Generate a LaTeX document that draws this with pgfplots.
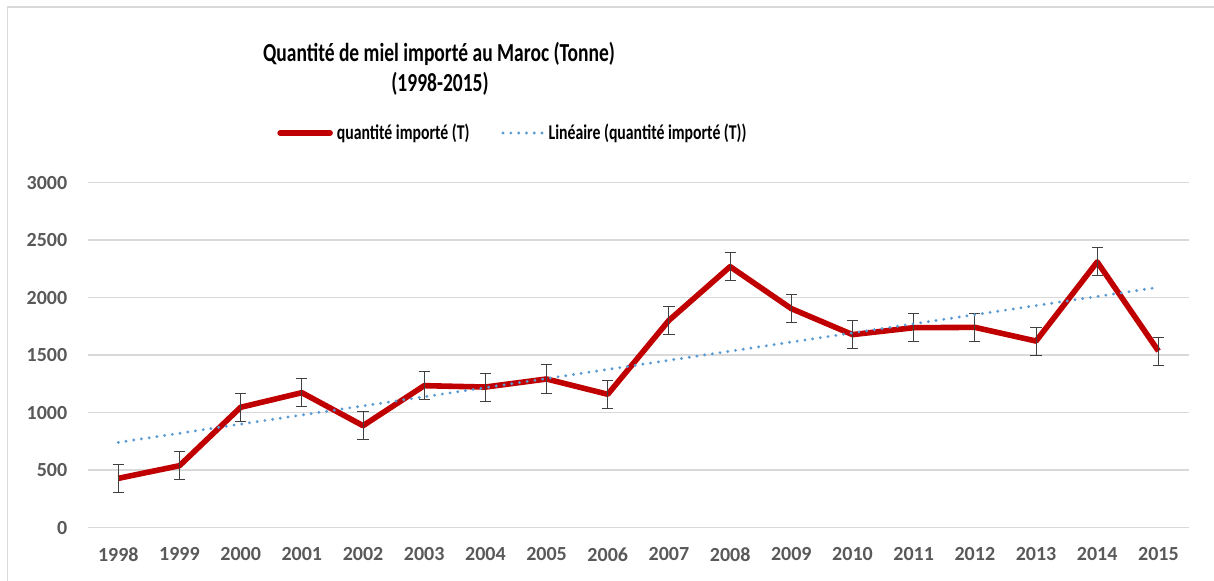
\documentclass[border=0pt]{standalone}
\usepackage{fontspec}
\setmainfont{Carlito}
\usepackage{graphicx}
\usepackage{pgfplots}
\usepackage{pgfplotstable}
\pgfplotsset{compat=1.18}
\definecolor{redline}{HTML}{C00000}
\definecolor{trend}{HTML}{5B9BD5}
\definecolor{gridc}{HTML}{D9D9D9}
\definecolor{tickc}{HTML}{595959}
\definecolor{errc}{HTML}{404040}

\pgfplotstableread{
x y e
0 429 122
1 539 122
2 1047 122
3 1174 122
4 887 122
5 1235 122
6 1223 122
7 1293 122
8 1160 122
9 1803 122
10 2270 122
11 1905 122
12 1679 122
13 1739 122
14 1742 122
15 1623 122
16 2311 122
17 1536 122
}\datatable

\begin{document}
\begin{tikzpicture}
\useasboundingbox (0,0) rectangle (607pt,290.5pt);
\draw[gridc, line width=0.9pt] (3.75pt,0) -- (3.75pt,287pt) -- (607pt,287pt);
\node[anchor=base, font=\bfseries\fontsize{13}{15}\selectfont, inner sep=0pt] at (219.5pt,259.65pt) {\scalebox{0.75}[1]{Quantité de miel importé au Maroc (Tonne)}};
\node[anchor=base, font=\bfseries\fontsize{13}{15}\selectfont, inner sep=0pt] at (220pt,244.65pt) {\scalebox{0.75}[1]{(1998-2015)}};
\begin{axis}[
  at={(43.85pt,26.65pt)}, anchor=south west,
  scale only axis, width=550.65pt, height=172.5pt,
  xmin=-0.5, xmax=17.5, ymin=0, ymax=3000,
  ytick={0,500,1000,1500,2000,2500,3000},
  xtick={0,...,17},
  xticklabels={1998,1999,2000,2001,2002,2003,2004,2005,2006,2007,2008,2009,2010,2011,2012,2013,2014,2015},
  axis line style={draw=none},
  major tick length=0pt,
  ymajorgrids,
  grid style={gridc, line width=0.75pt},
  /pgf/number format/assume math mode=true,
  /pgf/number format/set thousands separator={},
  scaled y ticks=false,
  tick label style={font=\bfseries\fontsize{10}{12}\selectfont, text=tickc},
  xticklabel style={yshift=-6.5pt},
  yticklabel style={xshift=-6.7pt},
  legend style={at={(0.387,1.144)}, anchor=center, draw=none, fill=none,
    legend columns=2, font=\bfseries\fontsize{10.5}{12}\selectfont,
    /tikz/every even column/.append style={column sep=14pt}},
  legend cell align=left,
]
\addplot+[redline, line width=2.8pt, no marks, line join=round,
  legend image code/.code={\draw[redline, line width=2.8pt, line cap=round] (0pt,0pt) -- (25pt,0pt);},
  error bars/.cd, y dir=both, y explicit,
  error bar style={errc, line width=0.5pt},
  error mark options={rotate=90, errc, mark size=2.8pt, line width=0.5pt},
]
  table[x=x, y=y, y error=e] {\datatable};
\addlegendentry{\scalebox{0.75}[1]{quantité importé (T)}}
\addplot[trend, line width=1.6pt, dash pattern=on 0pt off 3.9pt, line cap=round,
  legend image code/.code={\draw[trend, line width=1.6pt, dash pattern=on 0pt off 3.9pt, line cap=round] (0pt,0pt) -- (20pt,0pt);}]
  coordinates {(0,742) (17,2090)};
\addlegendentry{\scalebox{0.75}[1]{Linéaire (quantité importé (T))}}
\end{axis}
\end{tikzpicture}
\end{document}
